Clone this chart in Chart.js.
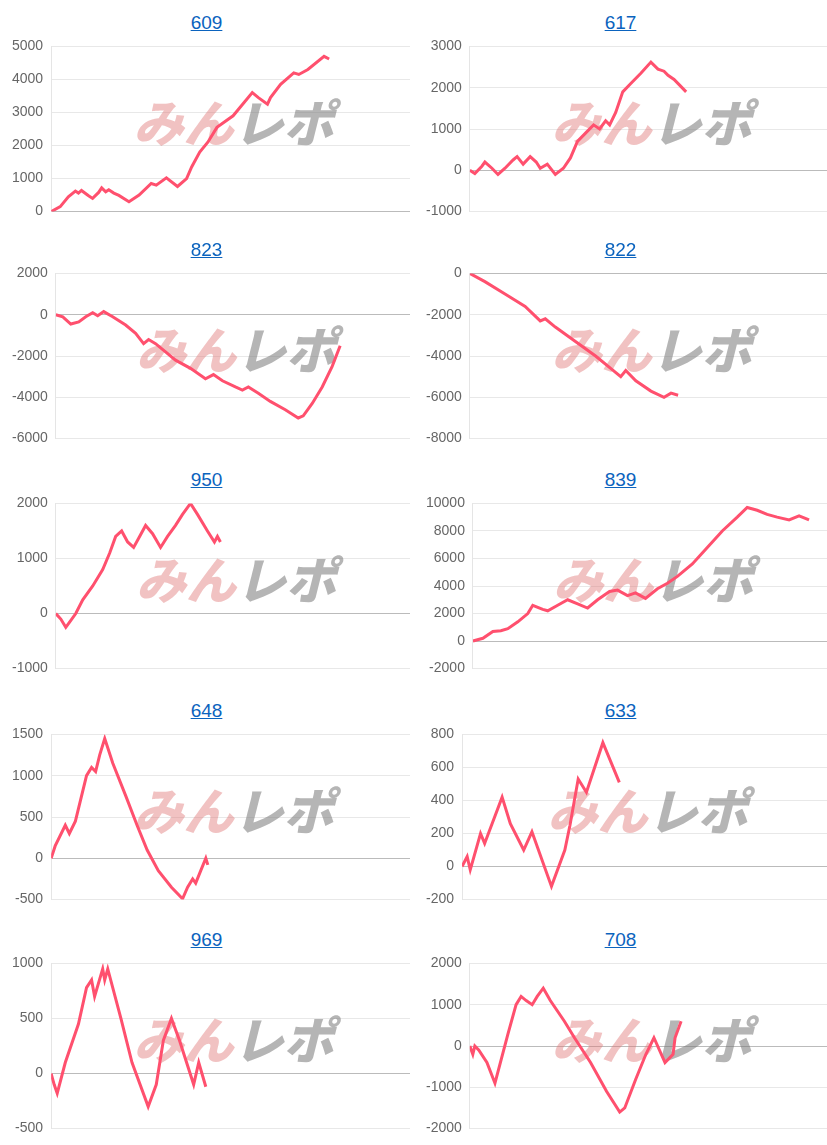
<!DOCTYPE html>
<html><head><meta charset="utf-8">
<script src="https://cdn.jsdelivr.net/npm/chart.js@4"></script>
<style>
body{margin:0;background:#fff;width:827px;height:1145px;position:relative;overflow:hidden;font-family:Arial,"Liberation Sans",sans-serif}
.cell{position:absolute;width:413px;height:228px}
.t{position:absolute;top:12px;left:0;width:100%;text-align:center;font-size:19px;color:#0b63be;text-decoration:underline}
.c{position:absolute;top:30px;left:0;width:413px;height:198px}
</style></head><body>
<script>
const titles = ["609","617","823","822","950","839","648","633","969","708"];
const x609 = [0,9,17,24,27,30,37,41,47,50,54,57,62,67,77,87,99,104,114,125,134,139,147,155,164,180,199,205,214,217,227,240,245,254,270,275];
const y609 = [0,150,450,620,560,640,480,400,580,720,600,660,560,490,300,500,850,800,1020,760,1000,1350,1800,2100,2550,2900,3600,3450,3250,3450,3850,4200,4150,4300,4700,4620];
const x617 = [0,5,12,15,22,28,35,43,47,53,60,66,70,77,85,93,100,107,115,123,129,135,139,145,152,160,170,180,187,193,197,203,209,215];
const y617 = [0,-80,100,200,50,-100,50,250,330,150,330,200,50,150,-100,50,300,700,900,1100,1000,1200,1100,1400,1900,2100,2350,2620,2450,2400,2300,2200,2050,1900];
const x823 = [0,7,15,23,30,37,42,48,57,70,80,88,93,100,110,120,135,150,158,167,180,187,193,203,215,230,243,248,257,267,277,285];
const y823 = [0,-100,-450,-350,-100,100,-50,150,-100,-500,-900,-1400,-1200,-1400,-1800,-2200,-2600,-3100,-2900,-3200,-3500,-3650,-3500,-3800,-4200,-4600,-5000,-4900,-4300,-3500,-2500,-1500];
const x822 = [0,15,35,55,70,75,85,105,125,140,150,155,165,180,193,200,207];
const y822 = [0,-400,-1000,-1600,-2300,-2200,-2600,-3300,-4000,-4600,-5000,-4700,-5200,-5700,-6000,-5800,-5900];
const x950 = [0,5,10,14,20,27,37,47,54,60,66,72,78,84,90,97,105,112,120,127,135,142,152,159,162,165];
const y950 = [0,-100,-250,-150,0,250,500,800,1100,1400,1500,1300,1200,1400,1600,1450,1200,1400,1600,1800,2000,1800,1500,1300,1400,1300];
const x839 = [0,10,20,28,35,45,55,60,70,75,85,95,105,115,125,137,145,155,163,173,185,195,205,220,235,250,265,275,285,295,305,317,327,337];
const y839 = [0,200,700,750,900,1400,2000,2600,2300,2200,2600,3000,2700,2400,3000,3600,3700,3300,3500,3100,3800,4200,4700,5600,6800,8000,9000,9700,9500,9200,9000,8800,9100,8800];
const x648 = [0,4,14,18,24,35,40,44,48,53,61,74,85,95,106,119,130,135,140,143,148,153,155];
const y648 = [0,150,400,300,450,1000,1100,1050,1250,1450,1150,750,400,100,-150,-350,-490,-350,-250,-300,-150,0,-80];
const x633 = [0,5,8,18,22,39,47,60,68,87,100,105,113,121,137,153];
const y633 = [0,60,-20,200,140,420,260,100,210,-120,100,250,530,450,750,510];
const x969 = [0,3,6,14,27,35,40,43,51,53,56,69,80,96,104,111,119,127,141,146,153];
const y969 = [0,-100,-180,100,450,780,850,700,950,850,950,500,100,-300,-100,300,500,300,-100,100,-120];
const x708 = [0,3,5,9,17,25,38,46,51,56,62,67,73,80,94,104,120,136,149,154,165,175,183,194,202,204,210];
const y708 = [0,-200,0,-100,-400,-900,300,1000,1200,1100,1000,1200,1400,1100,600,200,-400,-1100,-1600,-1500,-800,-200,200,-400,-200,200,600];

const xs=[x609,x617,x823,x822,x950,x839,x648,x633,x969,x708];
const ys=[y609,y617,y823,y822,y950,y839,y648,y633,y969,y708];
const yMin=[0,-1000,-6000,-8000,-1000,-2000,-500,-200,-500,-2000];
const yMax=[5000,3000,2000,0,2000,10000,1500,800,1000,2000];
const yStep=[1000,1000,2000,2000,1000,2000,500,200,500,1000];
const tops=[0,227,457,688,917];

const wm={id:'wm',beforeDatasetsDraw(ch){
  const a=ch.chartArea,c=ch.ctx;const cx=(a.left+a.right)/2+3,cy=(a.top+a.bottom)/2-6;
  c.save();c.font='italic 900 50px "Noto Sans CJK JP"';c.textBaseline='middle';
  c.fillStyle='rgba(225,120,120,0.45)';c.textAlign='right';c.fillText('みん',cx,cy);
  c.fillStyle='rgba(120,120,120,0.55)';c.textAlign='left';c.fillText('レポ',cx,cy);
  c.restore();}};

titles.forEach((t,i)=>{
  const d=document.createElement('div');d.className='cell';
  d.style.left=(i%2?414:0)+'px';d.style.top=tops[Math.floor(i/2)]+'px';
  d.innerHTML='<div class="t">'+t+'</div><div class="c"><canvas></canvas></div>';
  document.body.appendChild(d);
  new Chart(d.querySelector('canvas'),{type:'line',
    data:{datasets:[{data:xs[i].map((x,k)=>({x:x,y:ys[i][k]})),borderColor:'rgb(255,80,110)',borderWidth:3,pointRadius:0,tension:0,fill:false}]},
    options:{responsive:true,maintainAspectRatio:false,animation:false,
      layout:{padding:{right:i%2?0:3,bottom:14,left:4}},
      plugins:{legend:{display:false},tooltip:{enabled:false}},
      scales:{x:{type:'linear',min:0,max:355,display:false},
        y:{min:yMin[i],max:yMax[i],ticks:{stepSize:yStep[i],color:'#666',font:{size:14},padding:8,callback:v=>String(v)},
          border:{color:'#e5e5e5'},
          grid:{color:c=>c.tick&&c.tick.value===0?'#bbb':'#e8e8e8',drawTicks:false},
        }}},plugins:[wm]});
});
</script></body></html>
